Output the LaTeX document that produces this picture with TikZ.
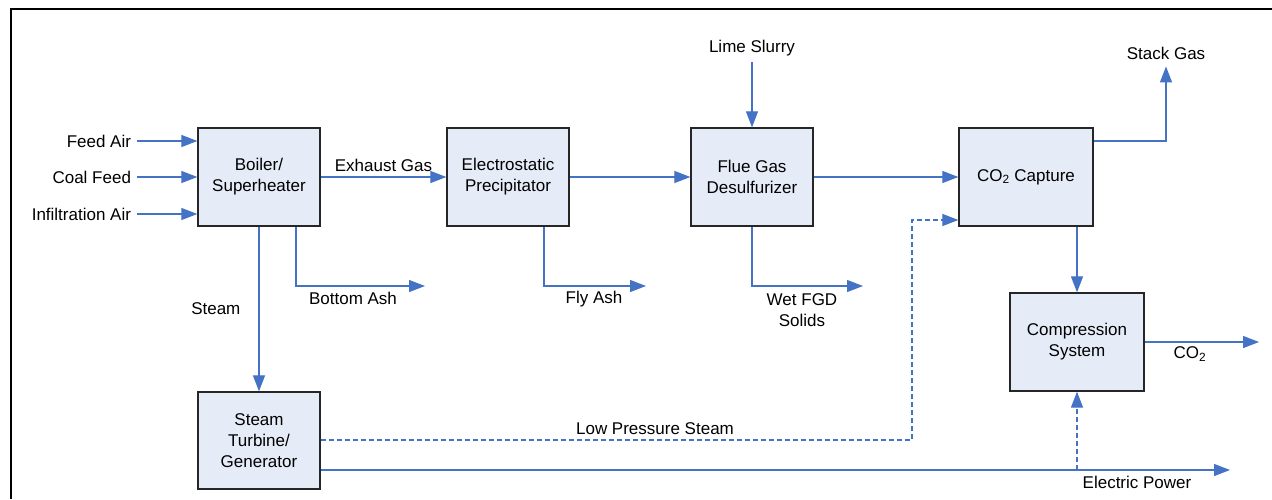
\documentclass[tikz,border=0pt]{standalone}
\usepackage{fontspec}
\setmainfont{Liberation Sans}
\usetikzlibrary{arrows.meta}
\definecolor{flowblue}{HTML}{4472C4}
\definecolor{boxfill}{HTML}{E6ECF7}
\definecolor{boxline}{HTML}{262626}

\begin{document}
\begin{tikzpicture}[x=1pt, y=-1pt, >={Triangle[length=16pt,width=12pt]},
  font=\fontsize{17}{21}\selectfont,
  unit/.style={draw=boxline, fill=boxfill, line width=1.3pt, minimum width=122pt, minimum height=98pt, align=center, inner sep=2pt},
  flow/.style={->, flowblue, line width=1.2pt},
  dflow/.style={flow, dash pattern=on 5pt off 3pt},
  lbl/.style={inner sep=2pt, align=center, text=black}]

\useasboundingbox (0,0) rectangle (1272,499);

% Frame
\draw[line width=2.5pt] (11,499) -- (11,9) -- (1272,9);

% Process units
\node[unit] (boiler) at (259,177) {Boiler/\\Superheater};
\node[unit] (esp) at (508,177) {Electrostatic\\Precipitator};
\node[unit] (fgd) at (752,177) {Flue Gas\\Desulfurizer};
\node[unit, minimum width=134pt] (capture) at (1026,177) {CO\textsubscript{2} Capture};
\node[unit, minimum width=134pt] (compress) at (1077,342) {Compression\\System};
\node[unit, minimum height=97pt] (turbine) at (259,440.5) {Steam\\Turbine/\\Generator};

% Boiler feeds
\foreach \name/\txt/\y in {feedair/Feed Air/141, coalfeed/Coal Feed/177, infair/Infiltration Air/214} {
  \node[lbl, anchor=east, outer sep=4pt] (\name) at (137,\y) {\txt};
  \draw[flow] (\name.east) -- (boiler.west |- \name.east);
}

% Gas path
\draw[flow] (boiler) -- node[lbl, above=3pt] (exhaust) {Exhaust Gas} (esp);
\draw[flow] (esp) -- (fgd);
\draw[flow] (fgd) -- (capture);

% Lime slurry
\node[lbl] (lime) at (752,48) {Lime Slurry};
\draw[flow, shorten <=4pt] (lime) -- (fgd);

% Stack gas
\node[lbl] (stack) at (1166,53) {Stack Gas};
\coordinate (stackturn) at (1166,141);
\draw[flow, shorten >=5pt] (capture.east |- stackturn) -- (stackturn) -- (stack);

% Steam to turbine
\draw[flow] (boiler) -- node[lbl, left=16pt] (steam) {Steam} (turbine);

% Solid byproducts
\coordinate (ashturn) at (296,286);
\coordinate (ashend) at (425,286);
\draw[flow] (boiler.south -| ashturn) -- (ashturn) -- (ashend);
\node[lbl] (bottomash) at (353,298) {Bottom Ash};

\coordinate (flyturn) at (544,286);
\coordinate (flyend) at (646,286);
\draw[flow] (esp.south -| flyturn) -- (flyturn) -- (flyend);
\node[lbl] (flyash) at (594,299) {Fly Ash};

\coordinate (fgdturn) at (752,286);
\coordinate (fgdend) at (863,286);
\draw[flow] (fgd.south) -- (fgdturn) -- (fgdend);
\node[lbl] (fgdsolids) at (802,310) {Wet FGD\\Solids};

% CO2 compression
\draw[flow] (capture.south -| compress.north) -- (compress.north);
\coordinate (co2end) at (1259,342);
\draw[flow] (compress.east) -- (co2end);
\node[lbl] (co2) at (1190,354) {CO\textsubscript{2}};

% Low pressure steam
\coordinate (lpturn) at (912,440);
\coordinate (lptop) at (912,220);
\draw[dflow] (turbine.east |- lpturn) -- (lpturn) -- (lptop) -- (capture.west |- lptop);
\node[lbl] (lpsteam) at (655,429) {Low Pressure Steam};

% Electric power
\coordinate (powerend) at (1230,470);
\coordinate (powertap) at (1077,470);
\draw[flow] (turbine.east |- powerend) -- (powerend);
\draw[dflow] (powertap) -- (compress.south);
\node[lbl] (power) at (1137,482) {Electric Power};

\end{tikzpicture}
\end{document}
